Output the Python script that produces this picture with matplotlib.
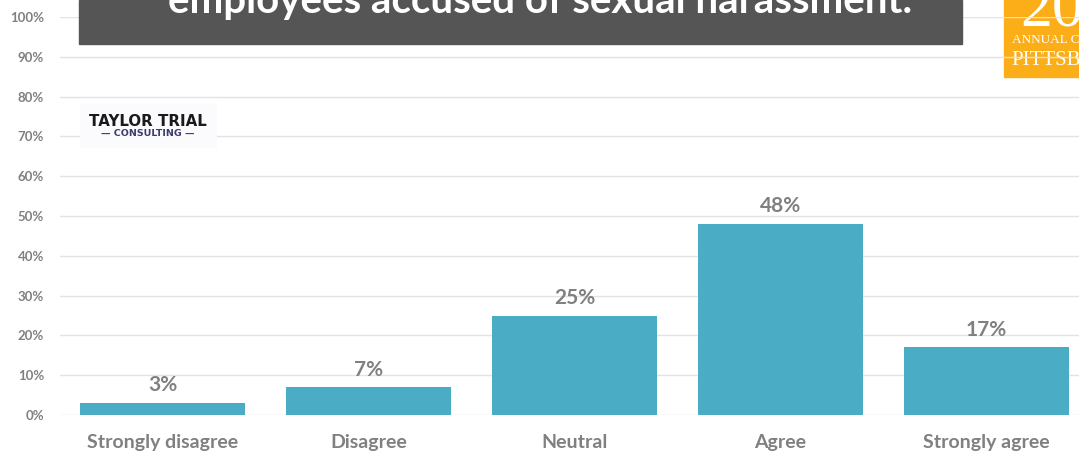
import matplotlib.pyplot as plt
from matplotlib.patches import Rectangle

categories = ['Strongly disagree', 'Disagree', 'Neutral', 'Agree', 'Strongly agree']
shares = [3, 7, 25, 48, 17]
y_ticks = [0, 10, 20, 30, 40, 50, 60, 70, 80, 90, 100]
title = 'employees accused of sexual harassment.'

W, H = 1079, 455
BAR = '#4BACC6'
GREY = '#808080'
plt.rcParams['font.family'] = ['Lato', 'DejaVu Sans']

fig = plt.figure(figsize=(W / 100, H / 100), dpi=100)
fig.patch.set_facecolor('white')

# conference badge in the corner, sits under the gridlines
fig.patches.append(Rectangle((1004 / W, 1 - 77 / H), 80 / W, 77 / H,
                             transform=fig.transFigure, color='#FBAE17', zorder=0))
fig.text(1020 / W, 1 - 25 / H, '20', color='white', fontsize=46,
         family='Liberation Serif', va='baseline', zorder=1)
fig.text(1012 / W, 1 - 43 / H, 'ANNUAL CONFERENCE', color='white', fontsize=9.5,
         family='Liberation Serif', va='baseline', zorder=1)
fig.text(1011 / W, 1 - 65 / H, 'PITTSBURGH', color='white', fontsize=15,
         family='Liberation Serif', va='baseline', zorder=1)

ax = fig.add_axes([59.5 / W, 40 / H, 1030 / W, 398 / H], zorder=2)
ax.patch.set_alpha(0)

x = range(len(categories))
bars = ax.bar(x, shares, width=0.8, color=BAR, zorder=2)
for b, v in zip(bars, shares):
    ax.annotate(f'{v}%', (b.get_x() + b.get_width() / 2, v), xytext=(0, 5.5),
                textcoords='offset points', ha='center', va='bottom',
                fontsize=15, fontweight='bold', color=GREY)

ax.set_xlim(-0.5, 4.5)
ax.set_ylim(0, 100)
ax.set_yticks(y_ticks)
ax.set_yticklabels([f'{t}%' for t in y_ticks])
ax.set_xticks(list(x))
ax.set_xticklabels(categories)
ax.grid(axis='y', color='#E3E3E3', linewidth=1, zorder=0)
ax.set_axisbelow(True)
for s in ax.spines.values():
    s.set_visible(False)
ax.tick_params(axis='y', length=0, pad=11, labelsize=9.5, labelcolor=GREY)
ax.tick_params(axis='x', length=0, pad=14, labelsize=14, labelcolor=GREY)
for lab in ax.get_xticklabels() + ax.get_yticklabels():
    lab.set_fontweight('bold')

# firm logo over the 70% line
ax.add_patch(Rectangle((80 / W, 1 - 148 / H), 137 / W, 45 / H, transform=fig.transFigure,
                       facecolor='#FBFBFE', edgecolor='none', zorder=5, clip_on=False))
fig.text(148 / W, 1 - 126 / H, 'TAYLOR TRIAL', color='#1a1a1a', fontsize=10.8,
         family='DejaVu Sans', fontweight='bold', ha='center', va='baseline', zorder=6)
fig.text(148 / W, 1 - 136 / H, '\u2014 CONSULTING \u2014', color='#3C3C6E', fontsize=6.8,
         family='DejaVu Sans', fontweight='bold', ha='center', va='baseline', zorder=6)

# heading bar across the top
title_ax = fig.add_axes([0, 0, 1, 1], zorder=3)
title_ax.set_axis_off()
title_ax.patch.set_alpha(0)
title_ax.add_patch(Rectangle((79 / W, 1 - 44 / H), 883 / W, 44 / H,
                             transform=fig.transFigure, color='#555555'))
title_ax.text(540 / W, 1 - 13 / H, title, color='white', fontsize=29,
              fontweight='bold', ha='center', va='baseline', transform=fig.transFigure)

fig.savefig('out.png', dpi=100)
